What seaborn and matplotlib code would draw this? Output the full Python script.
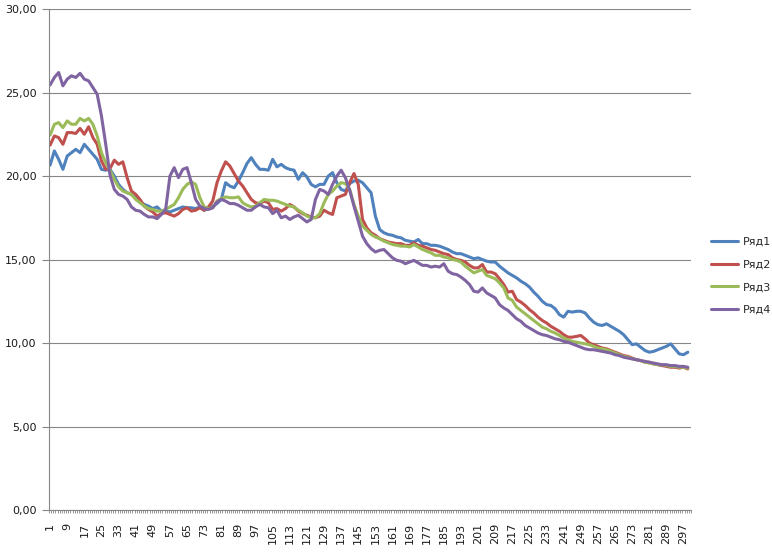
"""
Line chart of four series (Ряд1..Ряд4) over 300 points, Excel-like look.

Output: out.png (772x554 px)
"""

import numpy as np
import pandas as pd
import matplotlib
matplotlib.use("Agg")  # no display
import matplotlib.pyplot as plt
from matplotlib.ticker import FixedLocator, FuncFormatter
import seaborn as sns

# points read every second category (1, 3, 5, ..., 299)
PUNKTY = np.arange(1, 300, 2)

RYAD1 = [
    20.65, 21.5, 21.0, 20.4, 21.2, 21.4, 21.6, 21.4, 21.9, 21.6, 21.3, 21.0,
    20.4, 20.35, 20.4, 20.0, 19.5, 19.2, 19.0, 18.9, 18.7, 18.45, 18.3, 18.2,
    18.05, 18.15, 17.9, 17.9, 17.85, 17.95, 18.05, 18.15, 18.1, 18.1, 18.05, 18.15,
    17.95, 18.05, 18.2, 18.35, 18.6, 19.6, 19.4, 19.3, 19.7, 20.2, 20.75, 21.1, 20.7,
    20.4, 20.4, 20.35, 21.0, 20.55, 20.7, 20.5, 20.4, 20.35, 19.8, 20.2, 19.95,
    19.5, 19.35, 19.5, 19.5, 20.0, 20.2, 19.6, 19.2, 19.1, 19.55, 19.7, 19.75, 19.6,
    19.3, 19.0, 17.6, 16.8, 16.6, 16.5, 16.45, 16.35, 16.3, 16.15, 16.1, 16.05,
    16.2, 15.95, 15.95, 15.85, 15.85, 15.8, 15.7, 15.6, 15.45, 15.35, 15.35,
    15.25, 15.15, 15.05, 15.1, 15.0, 14.9, 14.85, 14.85, 14.6, 14.4, 14.2, 14.05,
    13.9, 13.7, 13.55, 13.35, 13.05, 12.8, 12.5, 12.3, 12.25, 12.05, 11.7, 11.55, 11.9,
    11.85, 11.9, 11.9, 11.8, 11.5, 11.25, 11.1, 11.05, 11.15, 11.0, 10.85, 10.7,
    10.5, 10.2, 9.9, 9.95, 9.75, 9.55, 9.45, 9.5, 9.6, 9.7, 9.8, 9.95, 9.65, 9.35,
    9.3, 9.45,
]

RYAD2 = [
    21.85, 22.4, 22.3, 21.9, 22.6, 22.6, 22.55, 22.85, 22.5, 22.95, 22.3, 21.9,
    20.9, 20.4, 20.45, 20.95, 20.7, 20.85, 19.9, 19.1, 18.9, 18.6, 18.2, 18.0,
    17.85, 17.6, 17.75, 17.8, 17.7, 17.6, 17.75, 18.0, 18.1, 17.9, 17.95, 18.1,
    17.95, 18.15, 18.5, 19.6, 20.3, 20.85, 20.6, 20.15, 19.7, 19.4, 19.0, 18.6, 18.4,
    18.35, 18.5, 18.4, 18.0, 18.05, 17.9, 18.05, 18.3, 18.15, 17.9, 17.75, 17.65,
    17.55, 17.5, 17.6, 17.95, 17.8, 17.7, 18.7, 18.8, 18.9, 19.6, 20.15, 19.5, 17.4,
    16.9, 16.6, 16.45, 16.25, 16.15, 16.05, 16.0, 15.95, 15.95, 15.85, 15.85, 16.0,
    15.85, 15.8, 15.7, 15.6, 15.55, 15.45, 15.35, 15.3, 15.1, 15.0, 14.95,
    14.85, 14.65, 14.5, 14.5, 14.7, 14.25, 14.25, 14.15, 13.85, 13.5, 13.05, 13.1,
    12.6, 12.45, 12.25, 12.0, 11.8, 11.55, 11.35, 11.2, 11.0, 10.85, 10.7, 10.5, 10.35,
    10.35, 10.4, 10.45, 10.25, 10.0, 9.9, 9.8, 9.7, 9.65, 9.55, 9.45, 9.35,
    9.25, 9.2, 9.1, 9.0, 8.95, 8.85, 8.85, 8.75, 8.7, 8.65, 8.6, 8.55, 8.55, 8.5,
    8.55, 8.45,
]

RYAD3 = [
    22.45, 23.1, 23.2, 22.9, 23.3, 23.1, 23.1, 23.45, 23.3, 23.45, 23.1, 22.4,
    21.4, 20.8, 20.35, 19.8, 19.35, 19.1, 19.0, 18.9, 18.6, 18.4, 18.2, 18.05,
    18.0, 17.9, 17.9, 18.0, 18.15, 18.3, 18.7, 19.2, 19.5, 19.65, 19.5, 18.7,
    18.15, 18.05, 18.1, 18.5, 18.65, 18.75, 18.7, 18.7, 18.75, 18.4, 18.25, 18.15, 18.2,
    18.4, 18.6, 18.55, 18.55, 18.5, 18.4, 18.3, 18.2, 18.15, 17.95, 17.8, 17.6,
    17.5, 17.5, 17.75, 18.4, 18.9, 19.1, 19.4, 19.6, 19.55, 19.2, 18.3, 17.6, 17.0,
    16.75, 16.5, 16.35, 16.25, 16.1, 16.0, 15.9, 15.85, 15.8, 15.8, 15.75, 15.9,
    15.75, 15.6, 15.5, 15.4, 15.25, 15.25, 15.15, 15.1, 15.0, 14.95, 14.85,
    14.6, 14.4, 14.2, 14.3, 14.4, 14.05, 13.95, 13.85, 13.6, 13.3, 12.7, 12.55,
    12.15, 11.95, 11.75, 11.55, 11.35, 11.15, 10.95, 10.85, 10.7, 10.6, 10.45, 10.3, 10.2,
    10.1, 10.05, 10.0, 9.95, 9.9, 9.8, 9.7, 9.65, 9.6, 9.5, 9.4, 9.3,
    9.2, 9.15, 9.05, 9.0, 8.95, 8.85, 8.8, 8.75, 8.7, 8.7, 8.65, 8.6, 8.6, 8.55,
    8.55, 8.5,
]

RYAD4 = [
    25.45, 25.9, 26.2, 25.4, 25.8, 26.0, 25.9, 26.15, 25.8, 25.7, 25.3, 24.9,
    23.6, 21.9, 20.05, 19.2, 18.9, 18.8, 18.6, 18.15, 17.95, 17.9, 17.7, 17.55,
    17.55, 17.45, 17.7, 18.0, 20.0, 20.5, 19.9, 20.4, 20.5, 19.6, 18.6, 18.2,
    18.05, 18.0, 18.1, 18.45, 18.6, 18.5, 18.35, 18.35, 18.25, 18.1, 17.95, 17.95, 18.15,
    18.3, 18.15, 18.1, 17.75, 17.95, 17.5, 17.6, 17.4, 17.55, 17.65, 17.45, 17.25,
    17.4, 18.6, 19.2, 19.1, 18.9, 19.5, 20.0, 20.35, 19.9, 19.15, 18.2, 17.3, 16.4,
    15.95, 15.65, 15.45, 15.55, 15.6, 15.35, 15.1, 14.95, 14.9, 14.75, 14.85, 14.95,
    14.8, 14.65, 14.65, 14.55, 14.6, 14.55, 14.75, 14.3, 14.15, 14.1, 13.95,
    13.75, 13.5, 13.1, 13.05, 13.3, 13.0, 12.85, 12.7, 12.3, 12.1, 11.95, 11.7,
    11.45, 11.3, 11.05, 10.9, 10.75, 10.6, 10.5, 10.45, 10.35, 10.25, 10.2, 10.1, 10.05,
    9.95, 9.85, 9.75, 9.65, 9.6, 9.6, 9.55, 9.5, 9.45, 9.4, 9.3, 9.25,
    9.15, 9.1, 9.05, 9.0, 8.95, 8.9, 8.85, 8.8, 8.75, 8.7, 8.7, 8.65, 8.65, 8.6,
    8.6, 8.55,
]

RYADY = ["Ряд1", "Ряд2", "Ряд3", "Ряд4"]
TSVETA = ["#4F81BD", "#C0504D", "#9BBB59", "#8064A2"]
X_METKI = list(range(1, 300, 8))
Y_METKI = [0, 5, 10, 15, 20, 25, 30]

SERYI = "#868686"


def sobrat_tablitsu():
    kuski = []
    for imya, znacheniya in zip(RYADY, [RYAD1, RYAD2, RYAD3, RYAD4]):
        assert len(znacheniya) == len(PUNKTY), imya
        kuski.append(pd.DataFrame({"punkt": PUNKTY, "znachenie": znacheniya, "ryad": imya}))
    return pd.concat(kuski, ignore_index=True)


def narisovat():
    sns.set_theme(style="white")
    plt.rcParams["font.family"] = ["DejaVu Sans"]

    df = sobrat_tablitsu()

    fig = plt.figure(figsize=(7.72, 5.54), dpi=100)
    ax = fig.add_axes([0.0635, 0.0794, 0.8316, 0.9043])

    sns.lineplot(data=df, x="punkt", y="znachenie", hue="ryad", hue_order=RYADY,
                 palette=TSVETA, linewidth=2.2, ax=ax)

    # axes, grid
    ax.set_ylim(0, 30)
    ax.set_xlim(0.5, 300.5)
    ax.yaxis.set_major_locator(FixedLocator(Y_METKI))
    ax.yaxis.set_major_formatter(FuncFormatter(lambda v, _: f"{v:.2f}".replace(".", ",")))
    ax.xaxis.set_major_locator(FixedLocator(X_METKI))
    ax.xaxis.set_minor_locator(FixedLocator(np.arange(0.5, 301, 1)))
    ax.yaxis.grid(True, color=SERYI, linewidth=0.8)
    ax.set_axisbelow(True)

    for storona in ["top", "right"]:
        ax.spines[storona].set_visible(False)
    for storona in ["left", "bottom"]:
        ax.spines[storona].set_color(SERYI)
        ax.spines[storona].set_linewidth(0.8)

    ax.tick_params(axis="y", direction="out", length=5, width=0.8, color=SERYI,
                   labelsize=8, labelcolor="#1a1a1a", pad=4, left=True)
    ax.tick_params(axis="x", which="major", length=0, labelsize=8,
                   labelcolor="#1a1a1a", pad=9, labelrotation=90)
    ax.tick_params(axis="x", which="minor", direction="out", length=2.5,
                   width=0.6, color=SERYI, bottom=True)
    for metka in ax.get_xticklabels():
        metka.set_verticalalignment("top")

    ax.set_xlabel("")
    ax.set_ylabel("")

    # legend on the right, outside the plot area
    ruchki, podpisi = ax.get_legend_handles_labels()
    ax.get_legend().remove()
    fig.legend(ruchki, podpisi, loc="center left", bbox_to_anchor=(0.921, 0.502),
               frameon=False, fontsize=8, handlelength=2.4, handletextpad=0.5,
               labelspacing=1.15, borderpad=0, borderaxespad=0)

    fig.savefig("out.png", dpi=100)
    plt.close(fig)


if __name__ == "__main__":
    narisovat()
